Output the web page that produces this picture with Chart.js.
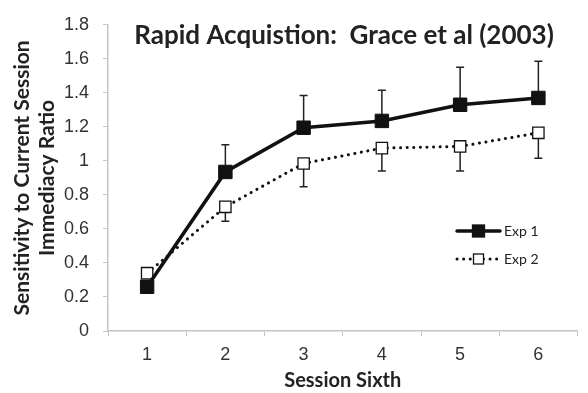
<!DOCTYPE html>
<html>
<head>
<meta charset="utf-8">
<script src="https://cdn.jsdelivr.net/npm/chart.js@4.4.0/dist/chart.umd.min.js"></script>
<style>
  html, body { margin: 0; padding: 0; background: #fff; }
  #wrap { width: 588px; height: 393px; }
</style>
</head>
<body>
<div id="wrap"><canvas id="graph" width="588" height="393"></canvas></div>
<script>
const sessions = ['1', '2', '3', '4', '5', '6'];
const exp1 = [0.26, 0.935, 1.195, 1.235, 1.33, 1.37];
const exp1Upper = [0.26, 1.095, 1.385, 1.415, 1.55, 1.585];
const exp2 = [0.34, 0.73, 0.985, 1.075, 1.085, 1.165];
const exp2Lower = [0.34, 0.645, 0.848, 0.94, 0.94, 1.015];
const yTicks = [0, 0.2, 0.4, 0.6, 0.8, 1, 1.2, 1.4, 1.6, 1.8];

const titleFont = 'bold 26px Lato';
const labelFont = '14px Lato';

// error bars: Exp 1 goes up, Exp 2 goes down
const errorBars = {
  id: 'errorBars',
  beforeDatasetsDraw(chart) {
    const ctx = chart.ctx;
    const x = chart.scales.x, y = chart.scales.y;
    ctx.save();
    ctx.strokeStyle = '#222';
    ctx.lineWidth = 1.5;
    const draw = (vals, ends) => {
      vals.forEach((v, i) => {
        if (ends[i] === v) return;
        const px = x.getPixelForValue(i);
        const y0 = y.getPixelForValue(v), y1 = y.getPixelForValue(ends[i]);
        ctx.beginPath();
        ctx.moveTo(px, y0); ctx.lineTo(px, y1);
        ctx.moveTo(px - 4, y1); ctx.lineTo(px + 4, y1);
        ctx.stroke();
      });
    };
    draw(exp1, exp1Upper);
    draw(exp2, exp2Lower);
    ctx.restore();
  }
};

const titleAndLegend = {
  id: 'titleAndLegend',
  afterDraw(chart) {
    const ctx = chart.ctx;
    ctx.save();
    ctx.fillStyle = '#222';
    ctx.font = titleFont;
    ctx.textAlign = 'center';
    ctx.textBaseline = 'middle';
    ctx.fillText('Rapid Acquistion:  Grace et al (2003)', 344, 36);

    // legend
    const lx = 457, lw = 43;
    const rows = [
      { label: 'Exp 1', y: 231, dash: [], width: 3.5, fill: '#111', size: 12 },
      { label: 'Exp 2', y: 259, dash: [0.1, 6.5], width: 3, fill: '#fff', size: 10 }
    ];
    rows.forEach(r => {
      ctx.strokeStyle = '#111';
      ctx.lineWidth = r.width;
      ctx.lineCap = 'round';
      ctx.setLineDash(r.dash);
      ctx.beginPath();
      ctx.moveTo(lx, r.y); ctx.lineTo(lx + lw, r.y);
      ctx.stroke();
      ctx.setLineDash([]);
      ctx.fillStyle = r.fill;
      ctx.lineWidth = 1.3;
      const cx = lx + lw / 2;
      ctx.fillRect(cx - r.size / 2, r.y - r.size / 2, r.size, r.size);
      ctx.strokeRect(cx - r.size / 2, r.y - r.size / 2, r.size, r.size);
      ctx.fillStyle = '#222';
      ctx.font = labelFont;
      ctx.textAlign = 'left';
      ctx.fillText(r.label, lx + lw + 4, r.y);
    });
    ctx.restore();
  }
};

const data = {
  labels: sessions,
  datasets: [{
    label: 'Exp 1',
    data: exp1,
    borderColor: '#111',
    backgroundColor: '#111',
    borderWidth: 3.5,
    pointStyle: 'rect',
    pointRadius: 9.5,
    pointBorderWidth: 1,
    pointBackgroundColor: '#111',
    pointBorderColor: '#111'
  }, {
    label: 'Exp 2',
    data: exp2,
    borderColor: '#111',
    borderWidth: 3,
    borderDash: [0.1, 6.5],
    borderCapStyle: 'round',
    pointStyle: 'rect',
    pointRadius: 8,
    pointBorderWidth: 1.3,
    pointBackgroundColor: '#fff',
    pointBorderColor: '#111'
  }]
};

const config = {
  type: 'line',
  data: data,
  options: {
    responsive: false,
    animation: false,
    layout: { padding: { top: 20, right: 1, left: 0, bottom: 0 } },
    plugins: {
      legend: { display: false },
      title: { display: false },
      tooltip: { enabled: false }
    },
    scales: {
      x: {
        offset: true,
        grid: { display: true, drawOnChartArea: false, drawTicks: true, tickLength: 5, color: '#c4c4c4', offset: true },
        border: { display: true, color: '#c4c4c4', width: 1.5 },
        ticks: { color: '#333', font: { family: 'Liberation Sans', size: 18 }, padding: 8 },
        title: { display: true, text: 'Session Sixth', color: '#222', font: { family: 'Lato', weight: 'bold', size: 20 }, padding: { top: 2, bottom: 0 } },
        afterFit(s) { s.height = 62; }
      },
      y: {
        min: 0, max: 1.8,
        afterBuildTicks(s) { s.ticks = yTicks.map(v => ({ value: v })); },
        grid: { display: true, drawOnChartArea: false, drawTicks: true, tickLength: 5, color: '#c4c4c4' },
        border: { display: true, color: '#c4c4c4', width: 1.5 },
        ticks: { color: '#333', font: { family: 'Liberation Sans', size: 18 }, padding: 14,
          callback: v => String(Math.round(v * 10) / 10) },
        title: { display: true, text: ['Sensitivity to Current Session', 'Immediacy Ratio'], color: '#222',
          font: { family: 'Lato', weight: 'bold', size: 21, lineHeight: 1.22 }, padding: { top: 9, bottom: 0 } },
        afterFit(s) { s.width = 108; }
      }
    }
  },
  plugins: [errorBars, titleAndLegend]
};

const graph = new Chart(document.getElementById('graph'), config);
</script>
</body>
</html>
